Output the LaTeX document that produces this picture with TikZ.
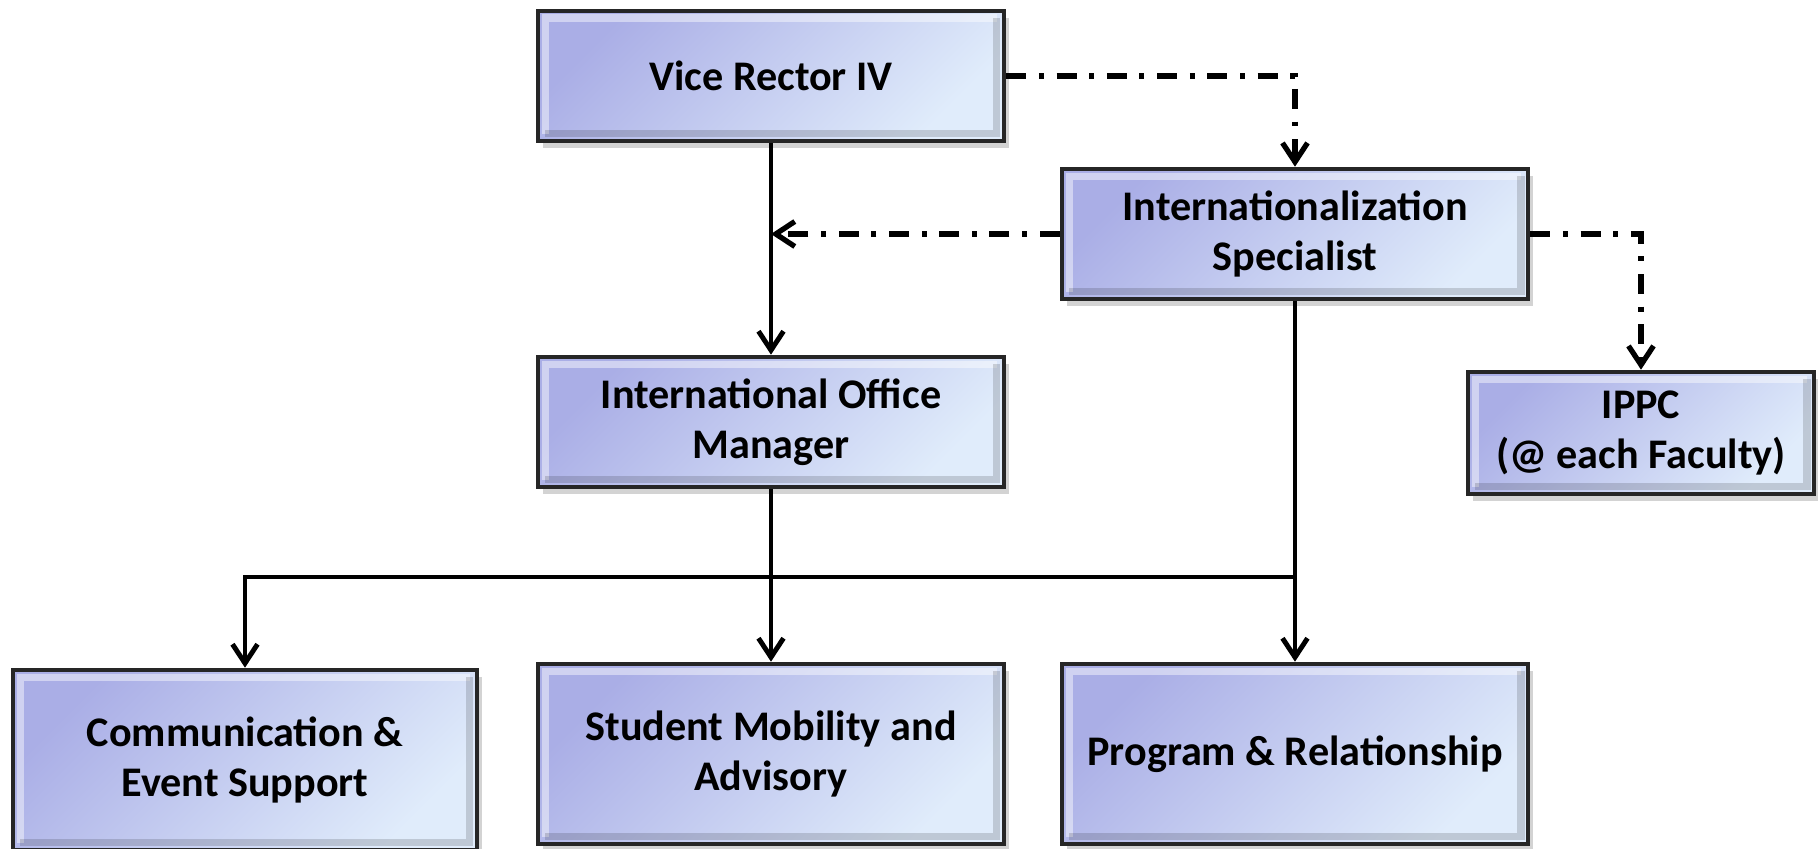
\documentclass[tikz,border=0pt]{standalone}
\usepackage{fontspec}
\setmainfont{Carlito}
\usetikzlibrary{arrows.meta,shadows}

\definecolor{boxL}{RGB}{170,174,230}
\definecolor{boxM}{RGB}{200,205,246}
\definecolor{boxR}{RGB}{224,236,251}

\tikzset{
  unit/.style={draw=black!85, line width=1.3pt, left color=boxL, middle color=boxM, right color=boxR,
    shading angle=45, drop shadow={opacity=0.35, shadow xshift=1.5pt, shadow yshift=-2pt},
    path picture={
      \draw[white, opacity=0.45, line width=2pt]
        ([shift={(2pt,2pt)}]path picture bounding box.south west) |-
        ([shift={(-2pt,-2pt)}]path picture bounding box.north east);
      \draw[black, opacity=0.15, line width=2pt]
        ([shift={(2pt,2pt)}]path picture bounding box.south west) -|
        ([shift={(-2pt,-2pt)}]path picture bounding box.north east);
    },
    align=center, inner sep=0pt, minimum width=4.66cm, minimum height=1.30cm,
    font=\fontsize{12}{14.2}\selectfont\bfseries},
  link/.style={line width=1.4pt, -{Straight Barb[length=1.9mm,width=2.5mm]}},
  dashlink/.style={link, line width=1.5pt, dash pattern=on 5.7pt off 3.6pt on 1.4pt off 3.6pt}
}

\begin{document}
\begin{tikzpicture}
\useasboundingbox (0,0) rectangle (18.18,8.49);

\node[unit] (VR)  at (7.71,7.73)  {Vice Rector IV};
\node[unit] (IS)  at (12.95,6.15) {Internationalization\\Specialist};
\node[unit] (IOM) at (7.71,4.27)  {International Office\\Manager};
\node[unit, minimum width=3.46cm, minimum height=1.22cm] (IP) at (16.41,4.16) {IPPC\\(@ each Faculty)};
\node[unit, minimum width=4.64cm, minimum height=1.80cm] (CE) at (2.45,0.89) {Communication \&\\Event Support};
\node[unit, minimum height=1.80cm] (SM) at (7.71,0.95)  {Student Mobility and\\Advisory};
\node[unit, minimum height=1.80cm] (PR) at (12.95,0.95) {Program \& Relationship};

\coordinate (J) at (IS.south |- 0,2.72);
\coordinate (K) at (VR.south |- IS.west);

\draw[link] (VR) -- (IOM);
\draw[link] (IOM) -- (SM);
\draw[link] (IS) -- (PR);
\draw[link] (J) -| (CE);
\draw[dashlink] (VR) -| (IS);
\draw[dashlink] (IS) -| (IP);
\draw[dashlink] (IS) -- (K);
\end{tikzpicture}
\end{document}
